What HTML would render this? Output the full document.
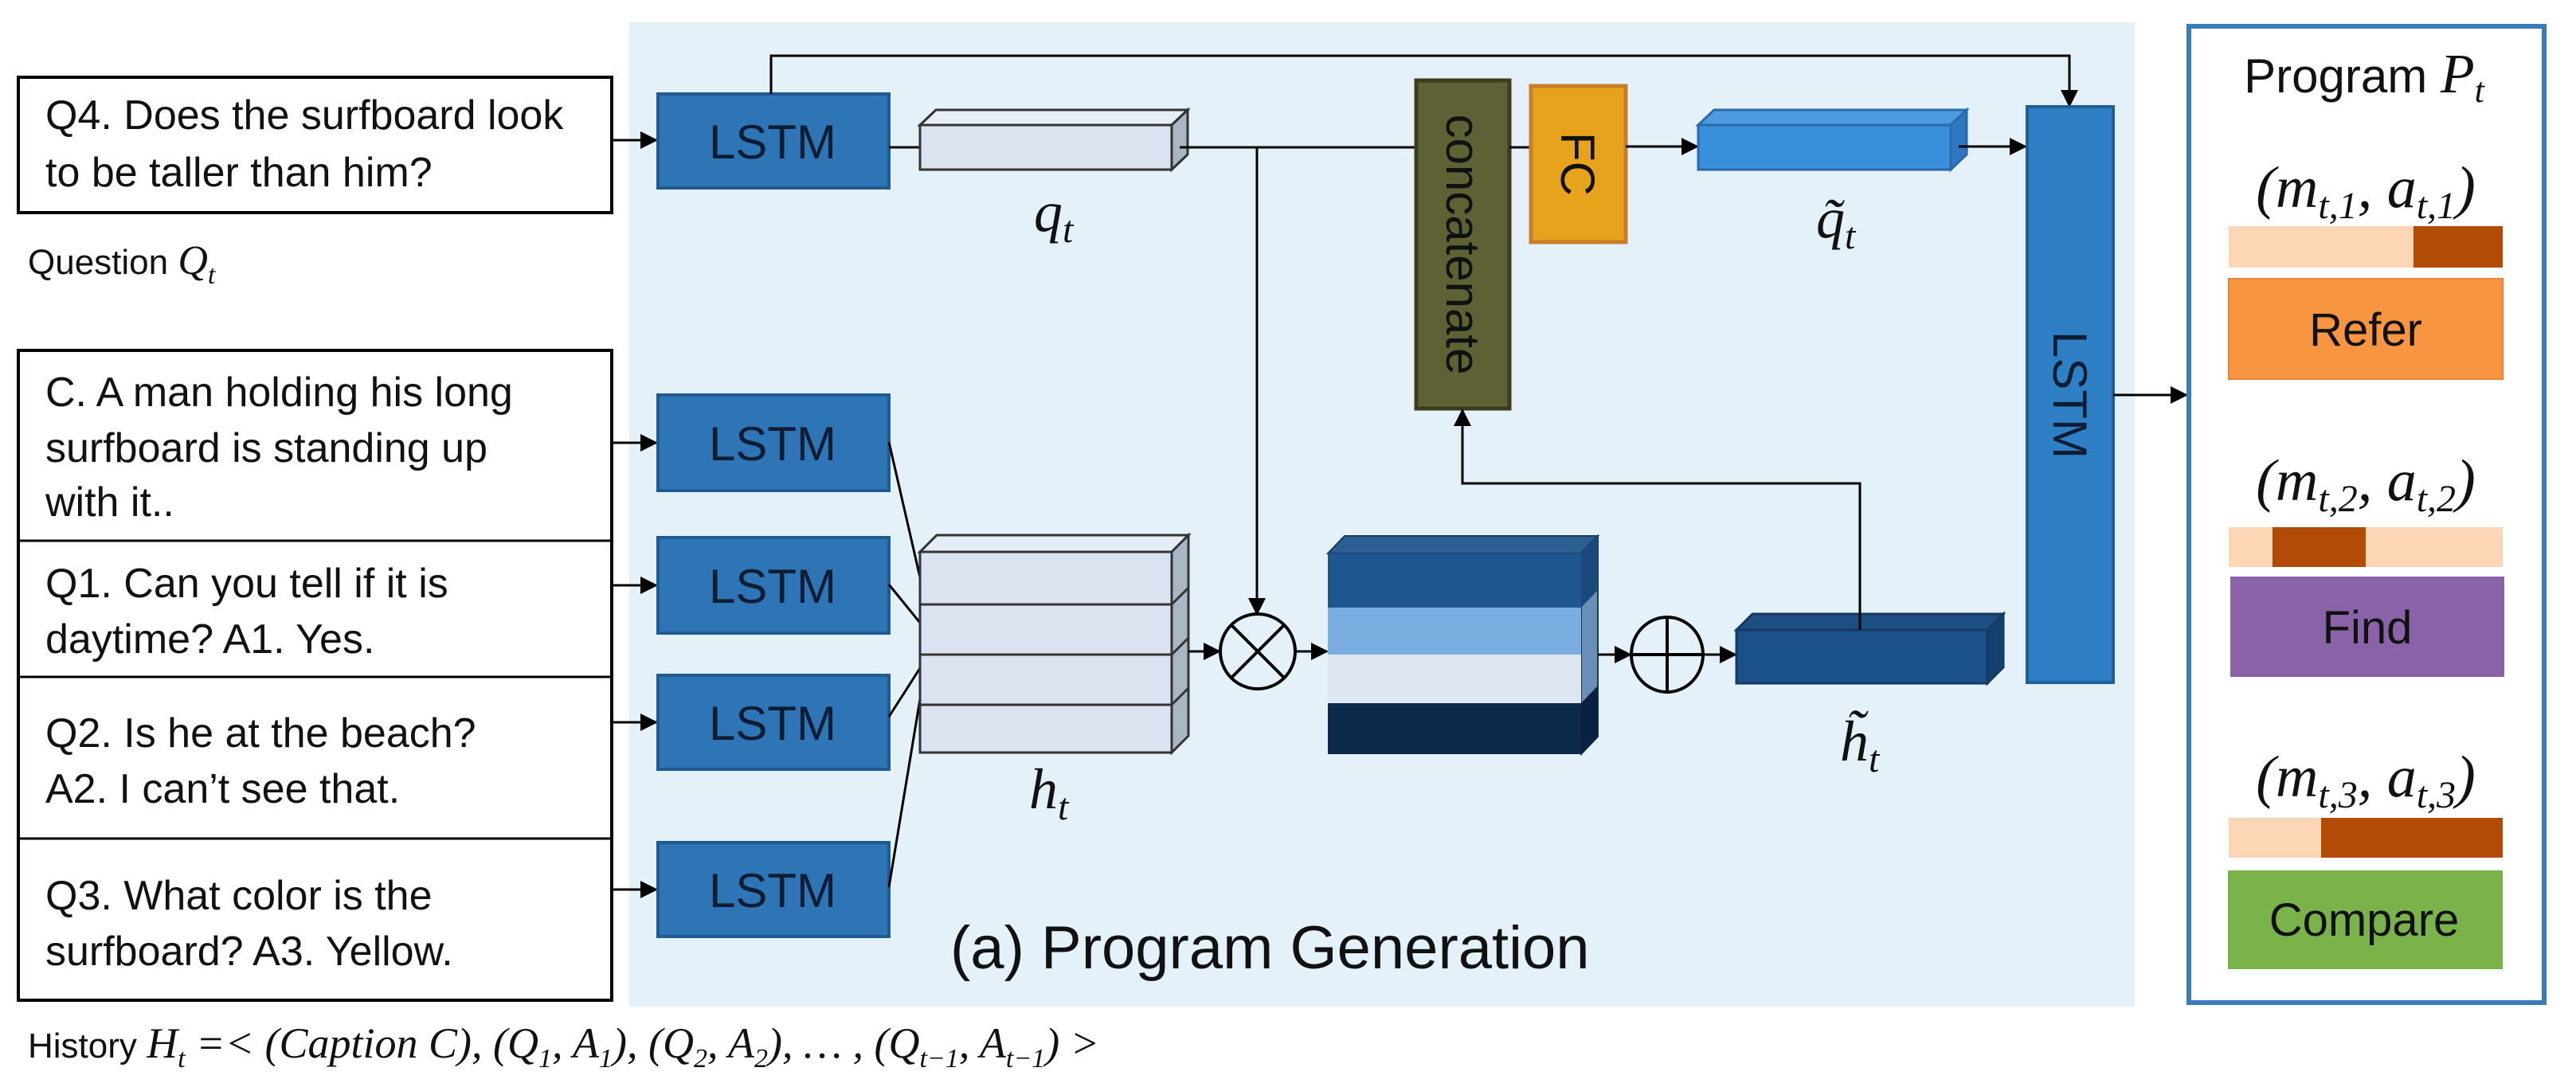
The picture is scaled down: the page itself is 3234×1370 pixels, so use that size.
<!DOCTYPE html>
<html><head><meta charset="utf-8"><style>
html,body{margin:0;padding:0;background:#fff;}
svg{display:block;}
.t{font-family:"Liberation Sans",sans-serif;fill:#111;}
.m{font-family:"Liberation Serif",serif;font-style:italic;fill:#111;}
.l{font-family:"Liberation Sans",sans-serif;fill:#0d1d33;font-size:60px;}
</style></head><body>
<svg width="3234" height="1370" viewBox="0 0 3234 1370" xmlns="http://www.w3.org/2000/svg">
<defs>
<marker id="b" markerWidth="22" markerHeight="22" refX="20" refY="11" orient="auto" markerUnits="userSpaceOnUse" viewBox="0 0 22 22"><path d="M0,0 L22,11 L0,22 z" fill="#000"/></marker>
</defs>
<rect x="790" y="28" width="1890" height="1236" fill="#e4f1f9"/>

<rect x="23" y="97" width="745" height="170" fill="#fff" stroke="#000" stroke-width="4"/>
<text class="t" x="57" y="162" font-size="52">Q4. Does the surfboard look</text>
<text class="t" x="57" y="234" font-size="52">to be taller than him?</text>
<text class="t" x="35" y="344" font-size="44">Question <tspan class="m" font-size="52">Q</tspan><tspan class="m" font-size="34" dy="12">t</tspan></text>

<rect x="23" y="440" width="745" height="816" fill="#fff" stroke="#000" stroke-width="4"/>
<line x1="23" y1="679" x2="768" y2="679" stroke="#000" stroke-width="3"/>
<line x1="23" y1="850" x2="768" y2="850" stroke="#000" stroke-width="3"/>
<line x1="23" y1="1053" x2="768" y2="1053" stroke="#000" stroke-width="3"/>
<g class="t" font-size="52">
<text x="57" y="510">C. A man holding his long</text>
<text x="57" y="580">surfboard is standing up</text>
<text x="57" y="648">with it..</text>
<text x="57" y="750">Q1. Can you tell if it is</text>
<text x="57" y="820">daytime? A1. Yes.</text>
<text x="57" y="938">Q2. Is he at the beach?</text>
<text x="57" y="1008">A2. I can’t see that.</text>
<text x="57" y="1142">Q3. What color is the</text>
<text x="57" y="1212">surfboard? A3. Yellow.</text>
</g>
<text class="t" x="35" y="1328" font-size="44">History <tspan class="m" font-size="54">H</tspan><tspan class="m" font-size="34" dy="12">t</tspan><tspan dy="-12" class="m" font-style="normal" font-size="54"> =&lt; (</tspan><tspan class="m" font-size="54">Caption C</tspan><tspan class="m" font-style="normal" font-size="54">), (</tspan><tspan class="m" font-size="54">Q</tspan><tspan font-size="34" dy="12" class="m" font-style="normal">1</tspan><tspan dy="-12" class="m" font-style="normal" font-size="54">, </tspan><tspan class="m" font-size="54">A</tspan><tspan font-size="34" dy="12" class="m" font-style="normal">1</tspan><tspan dy="-12" class="m" font-style="normal" font-size="54">), (</tspan><tspan class="m" font-size="54">Q</tspan><tspan font-size="34" dy="12" class="m" font-style="normal">2</tspan><tspan dy="-12" class="m" font-style="normal" font-size="54">, </tspan><tspan class="m" font-size="54">A</tspan><tspan font-size="34" dy="12" class="m" font-style="normal">2</tspan><tspan dy="-12" class="m" font-style="normal" font-size="54">), … , (</tspan><tspan class="m" font-size="54">Q</tspan><tspan font-size="34" dy="12" class="m">t−1</tspan><tspan dy="-12" class="m" font-style="normal" font-size="54">, </tspan><tspan class="m" font-size="54">A</tspan><tspan font-size="34" dy="12" class="m">t−1</tspan><tspan dy="-12" class="m" font-style="normal" font-size="54">) &gt;</tspan></text>

<g stroke="#000" stroke-width="3" fill="none">
<line x1="768" y1="176" x2="824" y2="176" marker-end="url(#b)"/>
<line x1="768" y1="556" x2="824" y2="556" marker-end="url(#b)"/>
<line x1="768" y1="735" x2="824" y2="735" marker-end="url(#b)"/>
<line x1="768" y1="907" x2="824" y2="907" marker-end="url(#b)"/>
<line x1="768" y1="1117" x2="824" y2="1117" marker-end="url(#b)"/>
</g>

<g fill="#2e75b6" stroke="#1f5a93" stroke-width="4">
<rect x="826" y="118" width="290" height="118"/>
<rect x="826" y="496" width="290" height="120"/>
<rect x="826" y="675" width="290" height="120"/>
<rect x="826" y="848" width="290" height="118"/>
<rect x="826" y="1058" width="290" height="118"/>
</g>
<g class="l" text-anchor="middle">
<text x="970" y="199">LSTM</text>
<text x="970" y="578">LSTM</text>
<text x="970" y="757">LSTM</text>
<text x="970" y="929">LSTM</text>
<text x="970" y="1139">LSTM</text>
</g>

<polyline points="968,118 968,70 2598,70 2598,133" fill="none" stroke="#000" stroke-width="3" marker-end="url(#b)"/>

<line x1="1116" y1="185" x2="1155" y2="185" stroke="#000" stroke-width="3"/>
<polygon points="1155,157 1175,138 1491,138 1471,157" fill="#e6edf6" stroke="#333" stroke-width="3"/>
<polygon points="1471,157 1491,138 1491,194 1471,213" fill="#aab6c4" stroke="#333" stroke-width="3"/>
<rect x="1155" y="157" width="316" height="56" fill="#dae3ef" stroke="#333" stroke-width="3"/>
<text class="m" x="1298" y="290" font-size="72">q<tspan font-size="48" dy="14">t</tspan></text>

<line x1="1481" y1="185" x2="1778" y2="185" stroke="#000" stroke-width="3"/>
<line x1="1578" y1="185" x2="1578" y2="771" stroke="#000" stroke-width="3" marker-end="url(#b)"/>

<rect x="1778" y="101" width="117" height="412" fill="#5e6133" stroke="#3b3d1c" stroke-width="5"/>
<text class="t" font-size="60" fill="#111" transform="translate(1816,307) rotate(90)" text-anchor="middle">concatenate</text>
<line x1="1895" y1="185" x2="1922" y2="185" stroke="#000" stroke-width="3"/>
<rect x="1922" y="108" width="119" height="196" fill="#e8a31c" stroke="#c97d2a" stroke-width="5"/>
<text class="t" font-size="60" transform="translate(1960,206) rotate(90)" text-anchor="middle">FC</text>
<line x1="2041" y1="184" x2="2131" y2="184" stroke="#000" stroke-width="3" marker-end="url(#b)"/>

<polygon points="2132,157 2152,138 2469,138 2449,157" fill="#4f9be0" stroke="#2a6aa8" stroke-width="3"/>
<polygon points="2449,157 2469,138 2469,194 2449,213" fill="#2d78c0" stroke="#2a6aa8" stroke-width="3"/>
<rect x="2132" y="157" width="317" height="56" fill="#3a8fdc" stroke="#2a6aa8" stroke-width="3"/>
<text class="m" x="2280" y="298" font-size="72">q̃<tspan font-size="48" dy="14">t</tspan></text>
<line x1="2459" y1="184" x2="2543" y2="184" stroke="#000" stroke-width="3" marker-end="url(#b)"/>

<rect x="2545" y="134" width="108" height="723" fill="#2e7fc3" stroke="#1f5f99" stroke-width="4"/>
<text class="l" font-size="64" transform="translate(2578,496) rotate(90)" text-anchor="middle">LSTM</text>
<line x1="2653" y1="496" x2="2745" y2="496" stroke="#000" stroke-width="3" marker-end="url(#b)"/>

<g stroke="#000" stroke-width="3">
<line x1="1116" y1="555" x2="1155" y2="725"/>
<line x1="1116" y1="734" x2="1155" y2="782"/>
<line x1="1116" y1="900" x2="1155" y2="839"/>
<line x1="1116" y1="1114" x2="1155" y2="878"/>
</g>

<polygon points="1155,693 1176,672 1492,672 1471,693" fill="#e6edf6" stroke="#333" stroke-width="3"/>
<polygon points="1471,693 1492,672 1492,924 1471,945" fill="#aab6c4" stroke="#333" stroke-width="3"/>
<g fill="#dae3ef" stroke="#333" stroke-width="3">
<rect x="1155" y="693" width="316" height="66"/>
<rect x="1155" y="759" width="316" height="63"/>
<rect x="1155" y="822" width="316" height="63"/>
<rect x="1155" y="885" width="316" height="60"/>
</g>
<g stroke="#333" stroke-width="3"><line x1="1471" y1="759" x2="1492" y2="738"/><line x1="1471" y1="822" x2="1492" y2="801"/><line x1="1471" y1="885" x2="1492" y2="864"/></g>
<text class="m" x="1292" y="1015" font-size="72">h<tspan font-size="48" dy="14">t</tspan></text>

<line x1="1492" y1="818" x2="1531" y2="818" stroke="#000" stroke-width="3" marker-end="url(#b)"/>
<circle cx="1579" cy="818" r="47" fill="none" stroke="#000" stroke-width="4"/>
<line x1="1546" y1="785" x2="1612" y2="851" stroke="#000" stroke-width="4"/>
<line x1="1612" y1="785" x2="1546" y2="851" stroke="#000" stroke-width="4"/>
<line x1="1626" y1="818" x2="1666" y2="818" stroke="#000" stroke-width="3" marker-end="url(#b)"/>

<polygon points="1667,695 1688,673 2006,673 1985,695" fill="#2b5f93" stroke="#1a3a5a" stroke-width="2"/>
<polygon points="1985,695 2006,673 2006,925 1985,947" fill="#6a8fb5" stroke="#1a3a5a" stroke-width="2"/>
<rect x="1667" y="695" width="318" height="68" fill="#1f5690"/>
<rect x="1667" y="763" width="318" height="59" fill="#7aaee0"/>
<rect x="1667" y="822" width="318" height="61" fill="#dde6f1"/>
<rect x="1667" y="883" width="318" height="64" fill="#0e2a4a"/>
<polygon points="1985,695 2006,673 2006,741 1985,763" fill="#1a4a7c"/>
<polygon points="1985,883 2006,861 2006,925 1985,947" fill="#0a2240"/>

<line x1="2006" y1="822" x2="2047" y2="822" stroke="#000" stroke-width="3" marker-end="url(#b)"/>
<ellipse cx="2093" cy="822" rx="45" ry="47" fill="none" stroke="#000" stroke-width="4"/>
<line x1="2048" y1="822" x2="2138" y2="822" stroke="#000" stroke-width="4"/>
<line x1="2093" y1="775" x2="2093" y2="869" stroke="#000" stroke-width="4"/>
<line x1="2138" y1="822" x2="2179" y2="822" stroke="#000" stroke-width="3" marker-end="url(#b)"/>

<polygon points="2180,791 2200,771 2515,771 2495,791" fill="#1d4f82" stroke="#153a60" stroke-width="3"/>
<polygon points="2495,791 2515,771 2515,838 2495,858" fill="#164070" stroke="#153a60" stroke-width="3"/>
<rect x="2180" y="791" width="315" height="67" fill="#1b5189" stroke="#153a60" stroke-width="3"/>
<text class="m" x="2310" y="955" font-size="72">h̃<tspan font-size="48" dy="14">t</tspan></text>
<polyline points="2335,791 2335,607 1836,607 1836,515" fill="none" stroke="#000" stroke-width="3" marker-end="url(#b)"/>

<text class="t" x="1193" y="1216" font-size="76">(a) Program Generation</text>

<rect x="2748" y="33" width="446" height="1226" fill="#fff" stroke="#3b7cbc" stroke-width="6"/>
<text class="t" x="2968" y="116" font-size="60" text-anchor="middle">Program <tspan class="m" font-size="70">P</tspan><tspan class="m" font-size="44" dy="12">t</tspan></text>
<g class="m" font-size="74" text-anchor="middle">
<text x="2970" y="260">(m<tspan font-size="48" dy="14">t,1</tspan><tspan dy="-14">, a</tspan><tspan font-size="48" dy="14">t,1</tspan><tspan dy="-14">)</tspan></text>
<text x="2970" y="628">(m<tspan font-size="48" dy="14">t,2</tspan><tspan dy="-14">, a</tspan><tspan font-size="48" dy="14">t,2</tspan><tspan dy="-14">)</tspan></text>
<text x="2970" y="1000">(m<tspan font-size="48" dy="14">t,3</tspan><tspan dy="-14">, a</tspan><tspan font-size="48" dy="14">t,3</tspan><tspan dy="-14">)</tspan></text>
</g>
<rect x="2798" y="284" width="344" height="52" fill="#fdd7b5"/>
<rect x="3030" y="284" width="112" height="52" fill="#b24b05"/>
<rect x="2798" y="350" width="344" height="126" fill="#f89540" stroke="#e8853a" stroke-width="2"/>
<text class="t" x="2970" y="434" font-size="58" text-anchor="middle">Refer</text>
<rect x="2798" y="662" width="344" height="50" fill="#fdd7b5"/>
<rect x="2853" y="662" width="117" height="50" fill="#b24b05"/>
<rect x="2800" y="724" width="344" height="126" fill="#8a62a8"/>
<text class="t" x="2972" y="808" font-size="58" text-anchor="middle">Find</text>
<rect x="2798" y="1027" width="344" height="50" fill="#fdd7b5"/>
<rect x="2914" y="1027" width="228" height="50" fill="#b24b05"/>
<rect x="2797" y="1093" width="345" height="124" fill="#7ab34a"/>
<text class="t" x="2968" y="1175" font-size="58" text-anchor="middle">Compare</text>
</svg>
</body></html>
